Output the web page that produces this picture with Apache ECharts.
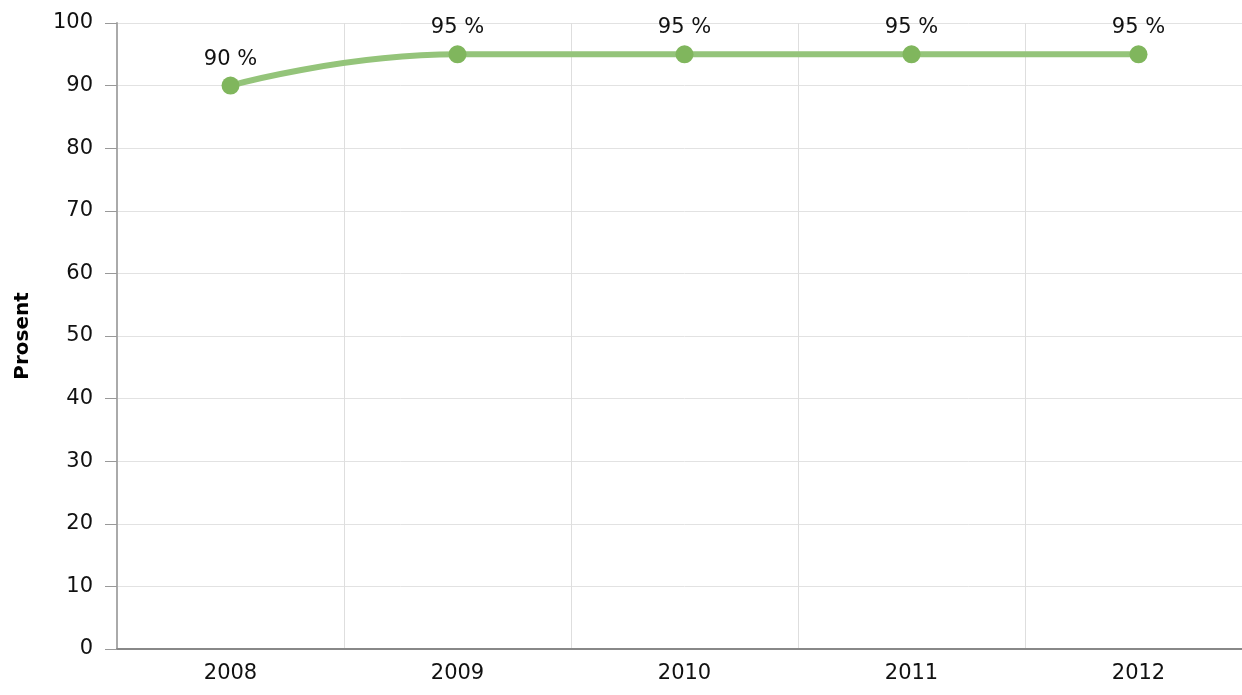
<!DOCTYPE html>
<html>
<head>
<meta charset="utf-8">
<script src="https://cdn.jsdelivr.net/npm/echarts@6/dist/echarts.min.js"></script>
<style>
  html, body { margin: 0; padding: 0; background: #fff; overflow: hidden; }
  #main { width: 1252px; height: 695px; }
</style>
</head>
<body>
<div id="main"></div>
<script>
// 数据
var years = ['2008', '2009', '2010', '2011', '2012'];
var prosent = [90, 95, 95, 95, 95];

var chart = echarts.init(document.getElementById('main'));
var font = 'DejaVu Sans, Verdana, sans-serif';

var option = {
  animation: false,
  textStyle: { fontFamily: font },
  grid: { left: 117, right: 0, top: 23, bottom: 46, containLabel: false },
  xAxis: {
    type: 'category',
    data: years,
    boundaryGap: true,
    axisLine: { lineStyle: { color: '#888', width: 2 } },
    axisTick: { alignWithLabel: true, length: 8, lineStyle: { color: '#999' } },
    axisLabel: { color: '#111', fontSize: 21, margin: 14, fontFamily: font },
    splitLine: { show: true, lineStyle: { color: '#dedede', width: 1 } }
  },
  yAxis: {
    type: 'value',
    min: 0,
    max: 100,
    interval: 10,
    name: 'Prosent',
    nameLocation: 'middle',
    nameGap: 84,
    nameTextStyle: { fontWeight: 'bold', fontSize: 20, color: '#000', fontFamily: font },
    axisLine: { show: true, lineStyle: { color: '#aaa', width: 2 } },
    axisTick: { show: true, length: 12, lineStyle: { color: '#999' } },
    axisLabel: { color: '#111', fontSize: 21, margin: 24, fontFamily: font },
    splitLine: { lineStyle: { color: '#e2e2e2', width: 1 } }
  },
  series: [{
    type: 'line',
    data: prosent,
    smooth: 0.5,
    symbol: 'circle',
    symbolSize: 18,
    lineStyle: { color: '#94c47a', width: 6 },
    itemStyle: { color: '#80b65d' },
    label: {
      show: true,
      position: 'top',
      distance: 7,
      formatter: '{c} %',
      color: '#111',
      fontSize: 21,
      fontFamily: font
    }
  }]
};

chart.setOption(option);
</script>
</body>
</html>
